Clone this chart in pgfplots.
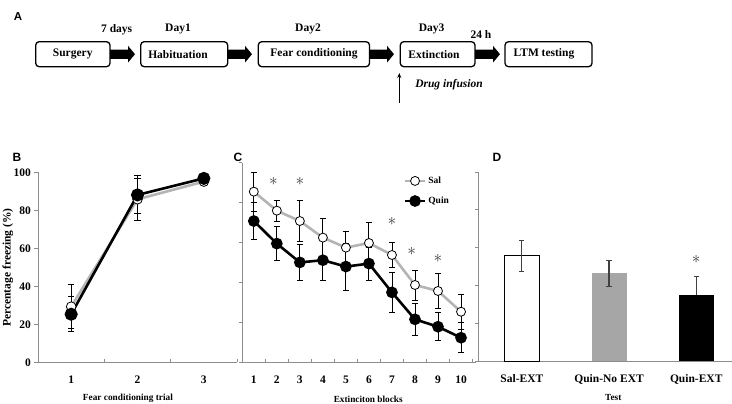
\documentclass[border=0pt]{standalone}
\usepackage{fontspec}
\setmainfont{Liberation Serif}
\newfontfamily\arialfont{Liberation Sans}
\usepackage{pgfplots}
\usepackage{pgfplotstable}
\usetikzlibrary{arrows.meta}
\pgfplotsset{compat=1.18}
\definecolor{axgray}{HTML}{8C8C8C}
\definecolor{salgray}{HTML}{B4B4B4}
\definecolor{bargray}{HTML}{A6A6A6}
\definecolor{ebgray}{HTML}{404040}
\definecolor{stargray}{HTML}{3C3C3C}

\pgfplotstableread{
x y e
1 29.4 11.5
2 85.9 11.0
3 95.2 2.0
}\Bsal
\pgfplotstableread{
x y e
1 25.4 9.3
2 88.2 10.0
3 96.9 1.5
}\Bquin
\pgfplotstableread{
x y e
1 85.5 9.7
2 76.0 5.3
3 70.8 10.2
4 62.5 9.7
5 57.5 8.3
6 59.8 10.3
7 53.8 6.2
8 38.8 7.5
9 35.8 8.8
10 25.4 8.8
}\Csal
\pgfplotstableread{
x y e
1 70.8 9.2
2 59.5 8.5
3 50.1 8.8
4 51.2 10.2
5 48.0 11.7
6 49.5 8.2
7 35.1 10.2
8 21.6 8.0
9 17.9 7.0
10 12.4 7.5
}\Cquin

\pgfplotsset{
 panel/.style={
  scale only axis, clip=false,
  axis lines=left, axis line style={-, draw=axgray, line width=0.9pt},
  ymin=0, ymax=100, ytick={0,20,...,100},
  tick align=outside, major tick length=3.5pt,
  tick style={draw=axgray, line width=0.9pt},
  tick label style={font=\fontsize{11.5}{12}\selectfont\bfseries},
  xticklabel style={yshift=-6pt},
  /pgf/number format/assume math mode=true,
  label style={font=\fontsize{9.3}{10}\selectfont\bfseries},
 },
 errs/.style={error bars/y dir=both, error bars/y explicit,
  error bars/error bar style={line width=0.9pt, black},
  error bars/error mark options={rotate=90, mark size=3.2pt, line width=0.9pt, black}},
}
\tikzset{starnode/.style={text=stargray, font=\fontsize{17}{17}\selectfont}}

\begin{document}
\begin{tikzpicture}
\useasboundingbox (0,0) rectangle (732pt,404pt);

% ---------- Panel A ----------
\begin{scope}[shift={(0,404pt)}, x=1pt, y=-1pt]
 \node[font=\arialfont\fontsize{11.5}{12}\selectfont\bfseries] at (18,17) {A};
 \tikzset{bx/.style={draw=black, line width=1.3pt, rounded corners=3.5pt}}
 \draw[bx] (35.7,41.7) rectangle (110,66.7);
 \draw[bx] (140.7,41.7) rectangle (227.7,66.7);
 \draw[bx] (258.3,41.7) rectangle (369.5,66.7);
 \draw[bx] (400.3,41.7) rectangle (475,66.7);
 \draw[bx] (505,41.7) rectangle (592,66.7);
 \foreach \a/\b in {110/135, 227.7/252, 369.5/394, 475/500}{
   \fill (\a,49.6) -- ({\b-7},49.6) -- ({\b-7},45.8) -- (\b,54.2) -- ({\b-7},62.6) -- ({\b-7},58.8) -- (\a,58.8) -- cycle;
 }
 \begin{scope}[font=\fontsize{11.5}{12}\selectfont\bfseries]
  \node at (72.7,54.2) {Surgery};
  \node at (178,54.2) {Habituation};
  \node at (314,54.2) {Fear conditioning};
  \node at (434,54.2) {Extinction};
  \node at (544,54.2) {LTM testing};
  \node at (116.7,29.3) {7 days};
  \node at (178,29.3) {Day1};
  \node at (308,29.3) {Day2};
  \node at (431.7,29.3) {Day3};
  \node at (481,34.3) {24 h};
  \node at (449,85) {\itshape Drug infusion};
 \end{scope}
 \draw[line width=1pt, -{Stealth[length=5pt,width=4pt]}] (399.3,103) -- (399.3,73);
 \node[font=\arialfont\fontsize{12}{12}\selectfont\bfseries] at (17,157) {B};
 \node[font=\arialfont\fontsize{12}{12}\selectfont\bfseries] at (238,157) {C};
 \node[font=\arialfont\fontsize{12}{12}\selectfont\bfseries] at (497,157) {D};
\end{scope}

% ---------- Panel B ----------
\begin{axis}[panel, at={(38pt,41.5pt)}, anchor=south west, width=199pt, height=190pt,
 xmin=0.5, xmax=3.5, xtick={0.5,1.5,2.5,3.5}, xticklabels={1,2,3}, x tick label as interval,
 xtick style={yshift=3.5pt},
 xlabel={Fear conditioning trial},
 xlabel style={at={(axis description cs:0.452,-0.19)}, anchor=center},
 ylabel={Percentage freezing (\%)},
 ylabel style={at={(axis description cs:-0.151,0.5)}, anchor=center, font=\fontsize{11.5}{12}\selectfont\bfseries},
]
\addplot[salgray, line width=2.6pt, mark=*, mark size=4.8pt,
  mark options={fill=white, draw=black, line width=0.8pt}, errs]
  table[x=x, y=y, y error=e]{\Bsal};
\addplot[black, line width=2.6pt, mark=*, mark size=5.2pt,
  mark options={fill=black, draw=black}, errs]
  table[x=x, y=y, y error=e]{\Bquin};
\end{axis}

% ---------- Panel C ----------
\begin{axis}[panel, at={(242.3pt,41.5pt)}, anchor=south west, width=233.7pt, height=199.8pt,
 xmin=0.5, xmax=10.65, xtick={0.5,1.5,2.5,3.5,4.5,5.5,6.5,7.5,8.5,9.5,10.5},
 xticklabels={1,2,3,4,5,6,7,8,9,10}, x tick label as interval,
 xtick style={yshift=3.5pt},
 yticklabels={},
 xlabel={Extinciton blocks},
 xlabel style={at={(axis description cs:0.539,-0.183)}, anchor=center},
 legend style={at={(rel axis cs:0.69,0.94)}, anchor=north west, draw=none, fill=none,
   font=\fontsize{9.5}{10}\selectfont\bfseries, row sep=8pt, inner sep=0pt, cells={anchor=west}},
 legend image code/.code={\draw[#1, mark repeat=2, mark phase=2] plot coordinates {(0pt,0pt) (10pt,0pt) (20pt,0pt)};},
]
\addplot[salgray, line width=2.6pt, mark=*, mark size=4.5pt,
  mark options={fill=white, draw=black, line width=0.8pt}, errs]
  table[x=x, y=y, y error=e]{\Csal};
\addlegendentry{Sal}
\addplot[black, line width=2.6pt, mark=*, mark size=4.5pt,
  mark options={fill=black, draw=black}, errs]
  table[x=x, y=y, y error=e]{\Cquin};
\addlegendentry{Quin}
\node[starnode] at (axis cs:1.85,90.5) {$\ast$};
\node[starnode] at (axis cs:3,90.5) {$\ast$};
\node[starnode] at (axis cs:7,70.8) {$\ast$};
\node[starnode] at (axis cs:7.86,55.5) {$\ast$};
\node[starnode] at (axis cs:9,52.2) {$\ast$};
\end{axis}

% ---------- Panel D ----------
\begin{axis}[panel, at={(478.3pt,42.5pt)}, anchor=south west, width=253.7pt, height=189.5pt,
 xmin=0.5, xmax=3.41, xtick={1,2,3}, xticklabels={Sal-EXT,Quin-No EXT,Quin-EXT},
 xtick style={draw=none}, yticklabels={},
 xlabel={Test},
 xlabel style={at={(axis description cs:0.532,-0.19)}, anchor=center},
]
\addplot[ybar, bar width=35pt, bar shift=0pt, draw=black, fill=white, line width=0.9pt,
  error bars/y dir=both, error bars/y explicit,
  error bars/error bar style={line width=1.2pt, ebgray},
  error bars/error mark options={rotate=90, mark size=2.6pt, line width=1.2pt, ebgray}]
  coordinates {(1,55.7) +- (0,8.0)};
\addplot[ybar, bar width=35pt, bar shift=0pt, draw=none, fill=bargray,
  error bars/y dir=both, error bars/y explicit,
  error bars/error bar style={line width=1.2pt, ebgray},
  error bars/error mark options={rotate=90, mark size=2.6pt, line width=1.2pt, ebgray}]
  coordinates {(2,46.5) +- (0,6.9)};
\addplot[ybar, bar width=35pt, bar shift=0pt, draw=none, fill=black,
  error bars/y dir=plus, error bars/y explicit,
  error bars/error bar style={line width=1.2pt, ebgray},
  error bars/error mark options={rotate=90, mark size=2.6pt, line width=1.2pt, ebgray}]
  coordinates {(3,35.3) +- (0,9.7)};
\node[starnode] at (axis cs:3,53.6) {$\ast$};
\end{axis}
\end{tikzpicture}
\end{document}
